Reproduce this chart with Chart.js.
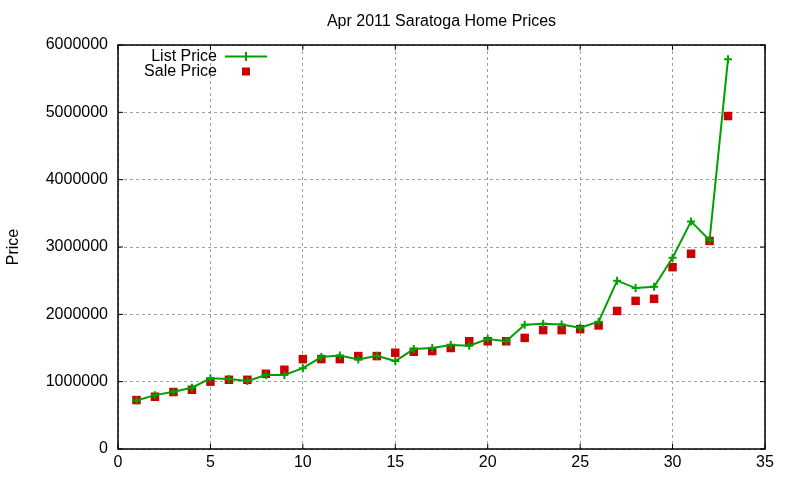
<!DOCTYPE html>
<html>
<head>
<meta charset="utf-8">
<script src="https://cdn.jsdelivr.net/npm/chart.js@4"></script>
<style>
  html, body { margin: 0; padding: 0; background: #fff; }
  #wrap { width: 800px; height: 480px; }
</style>
</head>
<body>
<div id="wrap"><canvas id="priceChart" width="800" height="480"></canvas></div>
<script>
let days = [1, 2, 3, 4, 5, 6, 7, 8, 9, 10, 11, 12, 13, 14, 15, 16, 17, 18, 19, 20, 21, 22, 23, 24, 25, 26, 27, 28, 29, 30, 31, 32, 33];
let listPrice = [720000, 800000, 850000, 910000, 1050000, 1040000, 1010000, 1100000, 1100000, 1200000, 1365000, 1390000, 1330000, 1385000, 1306000, 1484000, 1500000, 1543000, 1533000, 1632000, 1600000, 1844000, 1860000, 1850000, 1800000, 1890000, 2500000, 2390000, 2410000, 2840000, 3380000, 3100000, 5790000];
let salePrice = [727000, 776000, 846000, 880000, 1000000, 1028000, 1028000, 1117000, 1177000, 1335000, 1335000, 1335000, 1380000, 1380000, 1430000, 1444000, 1454000, 1500000, 1600000, 1600000, 1600000, 1650000, 1766000, 1766000, 1780000, 1835000, 2050000, 2200000, 2230000, 2700000, 2900000, 3090000, 4945000];
let xTicks = [0, 5, 10, 15, 20, 25, 30, 35];
let yTicks = [0, 1000000, 2000000, 3000000, 4000000, 5000000, 6000000];

let chartTitle = "Apr 2011 Saratoga Home Prices";
let green = "#00a000";
let red = "#cc0000";
let font = "'Liberation Sans', Arial, sans-serif";

function points(xs, ys) {
    let out = [];
    for (let i = 0; i < xs.length; i++) {
        out.push({x: xs[i], y: ys[i]});
    }
    return out;
}

// gnuplot style box, inward tics, title and legend inside the plot
const gnuplotLook = {
    id: 'gnuplotLook',
    beforeDatasetsDraw(chart) {
        let ctx = chart.ctx;
        let a = chart.chartArea;
        let xs = chart.scales.x;
        let ys = chart.scales.y;
        ctx.save();
        ctx.strokeStyle = '#000';
        ctx.lineWidth = 1.5;
        ctx.strokeRect(a.left, a.top, a.right - a.left, a.bottom - a.top);
        ctx.lineWidth = 1;
        ctx.beginPath();
        for (let v of xTicks) {
            let px = xs.getPixelForValue(v);
            ctx.moveTo(px, a.bottom); ctx.lineTo(px, a.bottom - 5);
            ctx.moveTo(px, a.top); ctx.lineTo(px, a.top + 5);
        }
        for (let v of yTicks) {
            let py = ys.getPixelForValue(v);
            ctx.moveTo(a.left, py); ctx.lineTo(a.left + 5, py);
            ctx.moveTo(a.right, py); ctx.lineTo(a.right - 5, py);
        }
        ctx.stroke();
        ctx.restore();
    },
    afterDraw(chart) {
        let ctx = chart.ctx;
        let a = chart.chartArea;
        ctx.save();
        ctx.fillStyle = '#000';
        ctx.font = "16px " + font;
        ctx.textAlign = 'center';
        ctx.textBaseline = 'alphabetic';
        ctx.fillText(chartTitle, (a.left + a.right) / 2, 26);

        ctx.textAlign = 'right';
        ctx.fillText(chart.data.datasets[0].label, 217, 61);
        ctx.fillText(chart.data.datasets[1].label, 217, 76);

        ctx.strokeStyle = green;
        ctx.lineWidth = 2;
        ctx.beginPath();
        ctx.moveTo(225, 56.5); ctx.lineTo(267, 56.5);
        ctx.moveTo(246, 52); ctx.lineTo(246, 61);
        ctx.stroke();

        ctx.fillStyle = red;
        ctx.fillRect(242, 67.5, 8, 8);
        ctx.restore();
    }
};

new Chart(document.getElementById("priceChart"), {
    type: 'line',
    data: {
        datasets: [
            {
                label: "List Price",
                data: points(days, listPrice),
                borderColor: green,
                backgroundColor: green,
                borderWidth: 2,
                tension: 0,
                pointStyle: 'cross',
                pointRadius: 4,
                pointBorderWidth: 2,
                pointBorderColor: green,
                fill: false
            },
            {
                label: "Sale Price",
                data: points(days, salePrice),
                showLine: false,
                pointStyle: 'rect',
                pointRadius: 6,
                pointBorderWidth: 0,
                pointBackgroundColor: red,
                pointBorderColor: red,
                backgroundColor: red
            }
        ]
    },
    options: {
        responsive: false,
        animation: false,
        layout: { padding: { top: 45, right: 35, left: 0, bottom: 0 } },
        plugins: {
            legend: { display: false },
            title: { display: false },
            tooltip: { enabled: false }
        },
        scales: {
            x: {
                type: 'linear',
                min: 0,
                max: 35,
                afterFit(scale) { scale.height = 31; },
                afterBuildTicks(scale) { scale.ticks = xTicks.map(v => ({value: v})); },
                ticks: {
                    color: '#000',
                    padding: 4,
                    maxRotation: 0,
                    autoSkip: false,
                    font: { family: font, size: 16 }
                },
                grid: {
                    color: '#a0a0a0',
                    drawTicks: false,
                    lineWidth: 1
                },
                border: { display: false, dash: [3, 3] }
            },
            y: {
                min: 0,
                max: 6000000,
                afterFit(scale) { scale.width = 118; },
                afterBuildTicks(scale) { scale.ticks = yTicks.map(v => ({value: v})); },
                ticks: {
                    color: '#000',
                    padding: 10,
                    autoSkip: false,
                    font: { family: font, size: 16 },
                    callback: (v) => String(v)
                },
                grid: {
                    color: '#a0a0a0',
                    drawTicks: false,
                    lineWidth: 1
                },
                border: { display: false, dash: [3, 3] },
                title: {
                    display: true,
                    text: 'Price',
                    color: '#000',
                    font: { family: font, size: 16 }
                }
            }
        }
    },
    plugins: [gnuplotLook]
});
</script>
</body>
</html>
